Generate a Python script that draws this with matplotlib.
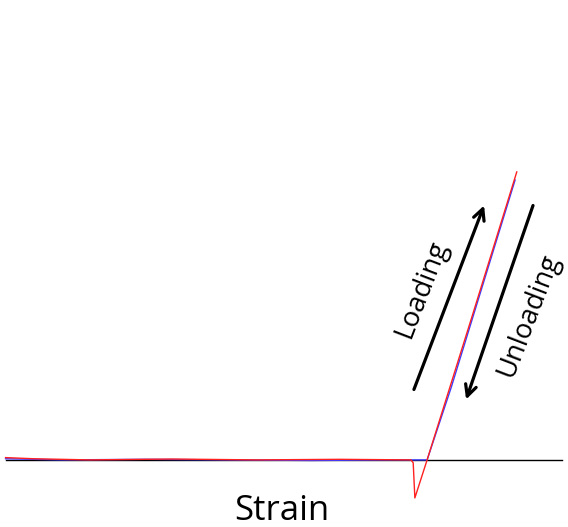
import matplotlib
matplotlib.use("Agg")
import matplotlib.pyplot as plt
import numpy as np

# loading curve (red) and unloading curve (blue), arbitrary units
red_strain = [0.0, 0.05, 0.15, 0.30, 0.45, 0.60, 0.728, 0.732, 0.735, 0.757, 0.838, 0.918]
red_stress = [0.008, 0.004, 0.0, 0.003, 0.0, 0.002, 0.0, -0.01, -0.132, 0.0, 0.50, 1.0]
blue_strain = [0.0, 0.10, 0.25, 0.40, 0.55, 0.70, 0.757, 0.800, 0.915]
blue_stress = [0.004, 0.0, 0.002, 0.0, -0.002, 0.0, 0.0, 0.25, 0.972]

fig = plt.figure(figsize=(5.68, 5.27), dpi=100)
ax = fig.add_axes([0, 0, 1, 1])
ax.set_xlim(-0.01, 1.01)
ax.set_ylim(-0.233, 1.597)
ax.axis("off")

# strain axis
ax.plot([0.0, 1.0], [0.0, 0.0], color="black", lw=1.0, zorder=1)
ax.plot(blue_strain, blue_stress, color="#3b3bff", lw=1.0, zorder=2)
ax.plot(red_strain, red_stress, color="#ff2020", lw=1.0, zorder=3)

font = "Open Sans"
# arrows
ax.annotate("", xy=(0.854, 0.615), xytext=(0.727, 0.256), xycoords="axes fraction",
            arrowprops=dict(arrowstyle="->", lw=2.3, color="black", mutation_scale=20))
ax.annotate("", xy=(0.819, 0.237), xytext=(0.940, 0.615), xycoords="axes fraction",
            arrowprops=dict(arrowstyle="->", lw=2.3, color="black", mutation_scale=20))

ax.text(0.742, 0.452, "Loading", transform=ax.transAxes, rotation=69,
        ha="center", va="center", fontsize=20, family=font, rotation_mode="anchor")
ax.text(0.930, 0.402, "Unloading", transform=ax.transAxes, rotation=69,
        ha="center", va="center", fontsize=19.5, family=font, rotation_mode="anchor")
ax.text(0.496, 0.013, "Strain", transform=ax.transAxes,
        ha="center", va="baseline", fontsize=25, family=font)

plt.savefig("out.png", dpi=100)
